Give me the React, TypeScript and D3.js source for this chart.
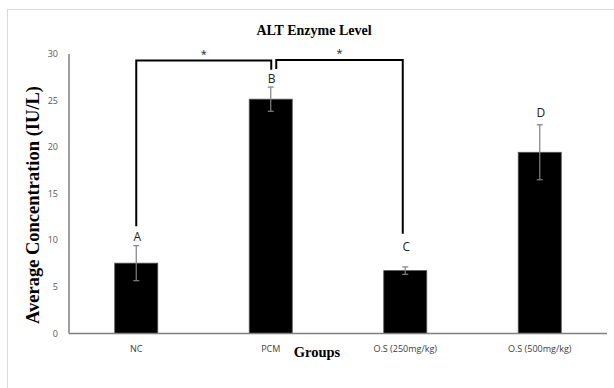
import React, { useRef, useEffect } from 'react';
import * as d3 from 'd3';

// chart data
const groups = ['NC', 'PCM', 'O.S (250mg/kg)', 'O.S (500mg/kg)'];
const means = [7.55, 25.15, 6.75, 19.45];
const errors = [1.88, 1.3, 0.4, 2.95];
const letters = ['A', 'B', 'C', 'D'];
const letterLevels = [10.4, 27.4, 9.3, 23.7];
const yTicks = [0, 5, 10, 15, 20, 25, 30];

// significance brackets: [from group, to group, top level, left drop, right drop]
const bracketFrom = ['NC', 'PCM'];
const bracketTo = ['PCM', 'O.S (250mg/kg)'];
const bracketTop = [29.3, 29.35];
const bracketLeftEnd = [11.5, 28.4];
const bracketRightEnd = [28.3, 10.7];

export default function App() {
    const ref = useRef<SVGSVGElement>(null);

    useEffect(() => {
        const svg = d3.select(ref.current);
        svg.selectAll('*').remove();

        const width = 614;
        const height = 388;
        const marginLeft = 69;
        const marginRight = 7;
        const yBottom = 333.5;
        const yTop = 54;
        const sans = '"Open Sans", "Liberation Sans", sans-serif';
        const serif = '"Liberation Serif", "DejaVu Serif", serif';

        svg.attr('width', width).attr('height', height);

        // outer frame
        svg.append('rect')
            .attr('x', 7.5).attr('y', 9.5)
            .attr('width', 640).attr('height', 420)
            .attr('fill', 'white')
            .attr('stroke', '#d9d9d9');

        const x = d3.scaleBand<string>()
            .domain(groups)
            .range([marginLeft, width - marginRight])
            .paddingInner(0.68)
            .paddingOuter(0.34);

        const y = d3.scaleLinear()
            .domain([0, 30])
            .range([yBottom, yTop]);

        const cx = (g: string) => (x(g) as number) + x.bandwidth() / 2;

        // title
        svg.append('text')
            .attr('x', 314).attr('y', 35)
            .attr('text-anchor', 'middle')
            .attr('font-family', serif)
            .attr('font-weight', 'bold')
            .attr('font-size', 14)
            .text('ALT Enzyme Level');

        // y tick labels
        svg.append('g')
            .selectAll('text')
            .data(yTicks)
            .join('text')
            .attr('x', 58)
            .attr('y', d => y(d))
            .attr('dy', '0.35em')
            .attr('text-anchor', 'end')
            .attr('font-family', sans)
            .attr('font-size', 9)
            .attr('fill', '#595959')
            .text(d => d);

        // bars
        svg.append('g')
            .selectAll('rect')
            .data(groups)
            .join('rect')
            .attr('x', d => x(d) as number)
            .attr('y', (d, i) => y(means[i]))
            .attr('width', x.bandwidth())
            .attr('height', (d, i) => yBottom - y(means[i]))
            .attr('fill', '#000')
            .attr('stroke', '#555')
            .attr('stroke-width', 0.8);

        // error bars
        const eb = svg.append('g')
            .attr('stroke', '#808080')
            .attr('stroke-width', 1.2);
        groups.forEach((g, i) => {
            const c = cx(g);
            const hi = y(means[i] + errors[i]);
            const lo = y(means[i] - errors[i]);
            eb.append('line').attr('x1', c).attr('x2', c).attr('y1', hi).attr('y2', lo);
            eb.append('line').attr('x1', c - 3).attr('x2', c + 3).attr('y1', hi).attr('y2', hi);
            eb.append('line').attr('x1', c - 3).attr('x2', c + 3).attr('y1', lo).attr('y2', lo);
        });

        // axes lines
        svg.append('line')
            .attr('x1', marginLeft).attr('x2', marginLeft)
            .attr('y1', yTop).attr('y2', yBottom)
            .attr('stroke', '#7f7f7f').attr('stroke-width', 1.5);
        svg.append('line')
            .attr('x1', marginLeft).attr('x2', width - marginRight)
            .attr('y1', yBottom).attr('y2', yBottom)
            .attr('stroke', '#7f7f7f').attr('stroke-width', 1.5);

        // category labels
        svg.append('g')
            .selectAll('text')
            .data(groups)
            .join('text')
            .attr('x', d => cx(d))
            .attr('y', 349)
            .attr('dy', '0.35em')
            .attr('text-anchor', 'middle')
            .attr('font-family', sans)
            .attr('font-size', 9)
            .attr('fill', '#404040')
            .text(d => d);

        // significance letters
        svg.append('g')
            .selectAll('text')
            .data(groups)
            .join('text')
            .attr('x', d => cx(d) + 1)
            .attr('y', (d, i) => y(letterLevels[i]))
            .attr('dy', '0.36em')
            .attr('text-anchor', 'middle')
            .attr('font-family', sans)
            .attr('font-size', 12)
            .attr('fill', '#222')
            .text((d, i) => letters[i]);

        // brackets
        const br = svg.append('g')
            .attr('fill', 'none')
            .attr('stroke', '#000')
            .attr('stroke-width', 2);
        bracketFrom.forEach((from, i) => {
            const x1 = cx(from) + (i === 0 ? 0 : 5.5);
            const x2 = cx(bracketTo[i]) + (i === 0 ? 0.5 : -2.5);
            br.append('path')
                .attr('d', `M${x1},${y(bracketLeftEnd[i])}V${y(bracketTop[i])}H${x2}V${y(bracketRightEnd[i])}`);
            svg.append('text')
                .attr('x', (x1 + x2) / 2)
                .attr('y', y(bracketTop[i]) - 3)
                .attr('text-anchor', 'middle')
                .attr('font-family', sans)
                .attr('font-size', 11)
                .attr('fill', '#222')
                .text('*');
        });

        // axis titles
        svg.append('text')
            .attr('transform', 'translate(39,205) rotate(-90)')
            .attr('text-anchor', 'middle')
            .attr('font-family', serif)
            .attr('font-weight', 'bold')
            .attr('font-size', 18.5)
            .text('Average Concentration (IU/L)');

        svg.append('text')
            .attr('x', 317).attr('y', 357)
            .attr('text-anchor', 'middle')
            .attr('font-family', serif)
            .attr('font-weight', 'bold')
            .attr('font-size', 14.5)
            .text('Groups');
    }, []);

    return <svg ref={ref} style={{ position: 'absolute', left: 0, top: 0 }} />;
}
